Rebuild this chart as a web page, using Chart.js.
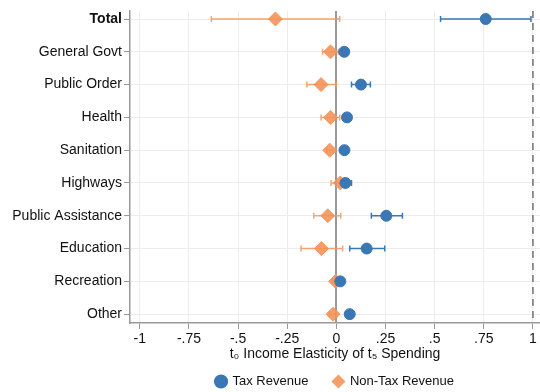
<!DOCTYPE html>
<html>
<head>
<meta charset="utf-8">
<script src="https://cdn.jsdelivr.net/npm/chart.js@4/dist/chart.umd.min.js"></script>
<style>
  html, body { margin: 0; padding: 0; background: #fff; }
  #wrap { width: 540px; height: 392px; }
</style>
</head>
<body>
<div id="wrap"><canvas id="c" width="540" height="392"></canvas></div>
<script>
// Spending categories, top to bottom
const categories = ['Total', 'General Govt', 'Public Order', 'Health', 'Sanitation',
  'Highways', 'Public Assistance', 'Education', 'Recreation', 'Other'];

// Tax revenue: point estimate and confidence interval
const taxEst  = [0.76, 0.04, 0.125, 0.054, 0.041, 0.046, 0.254, 0.154, 0.02, 0.068];
const taxLow  = [0.53, 0.03, 0.077, 0.04, 0.03, 0.03, 0.178, 0.068, 0.012, 0.058];
const taxHigh = [0.99, 0.05, 0.173, 0.068, 0.052, 0.077, 0.336, 0.246, 0.028, 0.078];

// Non-tax revenue: point estimate and confidence interval
const nonTaxEst  = [-0.31, -0.03, -0.078, -0.03, -0.034, 0.02, -0.044, -0.076, -0.004, -0.017];
const nonTaxLow  = [-0.636, -0.07, -0.15, -0.078, -0.05, -0.027, -0.115, -0.18, -0.02, -0.035];
const nonTaxHigh = [0.017, 0.01, 0.0, 0.017, -0.018, 0.071, 0.022, 0.032, 0.012, 0.001];

// Horizontal axis ticks
const xTicks = [-1, -0.75, -0.5, -0.25, 0, 0.25, 0.5, 0.75, 1];

const BLUE = '#3a77b3';
const ORANGE = 'rgba(242,146,86,0.88)';
const ORANGE_LINE = 'rgba(242,150,92,0.85)';
const FONT = '"Liberation Sans", Arial, Helvetica, sans-serif';
const LEGEND_GAP = 25;

function fmtTick(v) {
  if (v === 0) return '0';
  const s = String(Math.abs(v)).replace(/^0/, '');
  return (v < 0 ? '-' : '') + s;
}

// Let the plot area run to the right edge of the canvas
const fullWidthPlot = {
  id: 'fullWidthPlot',
  afterLayout(chart) {
    const x = chart.scales.x;
    const area = chart.chartArea;
    area.right = chart.width;
    area.width = area.right - area.left;
    x.right = chart.width;
    x.width = x.right - x.left;
    x.configure();
  }
};

// Error bars and reference lines, drawn from the chart's own scales
const errorBars = {
  id: 'errorBars',
  beforeDatasetsDraw(chart) {
    const { ctx, chartArea, scales: { x, y } } = chart;
    ctx.save();
    // reference lines at 0 (solid) and 1 (dashed)
    ctx.strokeStyle = '#9a9a9a';
    ctx.lineWidth = 2;
    ctx.beginPath();
    ctx.moveTo(Math.round(x.getPixelForValue(0)), chartArea.top);
    ctx.lineTo(Math.round(x.getPixelForValue(0)), chartArea.bottom);
    ctx.stroke();
    ctx.strokeStyle = '#7a7a7a';
    ctx.lineWidth = 1.6;
    ctx.setLineDash([7, 5]);
    ctx.beginPath();
    ctx.moveTo(x.getPixelForValue(1), chartArea.top);
    ctx.lineTo(x.getPixelForValue(1), chartArea.bottom);
    ctx.stroke();
    ctx.setLineDash([]);

    const sets = [
      { low: taxLow, high: taxHigh, color: BLUE },
      { low: nonTaxLow, high: nonTaxHigh, color: ORANGE_LINE }
    ];
    sets.forEach(s => {
      ctx.strokeStyle = s.color;
      ctx.lineWidth = 1.5;
      categories.forEach((_, i) => {
        const py = y.getPixelForValue(i);
        const x1 = x.getPixelForValue(s.low[i]);
        const x2 = x.getPixelForValue(s.high[i]);
        ctx.beginPath();
        ctx.moveTo(x1, py); ctx.lineTo(x2, py);
        ctx.moveTo(x1, py - 3); ctx.lineTo(x1, py + 3);
        ctx.moveTo(x2, py - 3); ctx.lineTo(x2, py + 3);
        ctx.stroke();
      });
    });
    ctx.restore();
  }
};

// Place the legend centred under the plot area, a fixed distance below the axis
const legendUnderPlot = {
  id: 'legendUnderPlot',
  afterLayout(chart) {
    const lg = chart.legend;
    if (!lg) return;
    const mid = (chart.chartArea.left + chart.chartArea.right) / 2;
    const shift = mid - (lg.left + lg.right) / 2;
    lg.left += shift;
    lg.right += shift;
    const centerY = chart.chartArea.bottom + 60;
    lg.top = centerY - LEGEND_GAP - 8;
    lg.bottom = chart.height;
    lg.height = lg.bottom - lg.top;
  }
};

new Chart(document.getElementById('c'), {
  type: 'scatter',
  data: {
    datasets: [
      {
        label: 'Tax Revenue',
        data: taxEst.map((v, i) => ({ x: v, y: i })),
        backgroundColor: BLUE,
        borderColor: BLUE,
        pointStyle: 'circle',
        pointRadius: 5.5,
        pointHoverRadius: 5.5
      },
      {
        label: 'Non-Tax Revenue',
        data: nonTaxEst.map((v, i) => ({ x: v, y: i })),
        backgroundColor: ORANGE,
        borderColor: ORANGE,
        pointStyle: 'rectRot',
        pointRadius: 7,
        pointHoverRadius: 7
      }
    ]
  },
  options: {
    responsive: false,
    animation: false,
    events: [],
    layout: { padding: { top: 11, right: 0, left: 0, bottom: 0 } },
    plugins: {
      tooltip: { enabled: false },
      legend: {
        position: 'bottom',
        maxHeight: 21,
        labels: {
          usePointStyle: true,
          boxWidth: 10,
          boxHeight: 10,
          padding: LEGEND_GAP,
          color: '#111',
          font: { family: FONT, size: 13 },
          generateLabels(chart) {
            return chart.data.datasets.map((d, i) => ({
              text: d.label,
              fillStyle: i === 0 ? BLUE : 'rgba(242,150,92,0.9)',
              strokeStyle: i === 0 ? BLUE : 'rgba(242,150,92,0.9)',
              lineWidth: 0,
              pointStyle: d.pointStyle,
              datasetIndex: i,
              fontColor: '#111'
            }));
          }
        }
      }
    },
    scales: {
      x: {
        type: 'linear',
        min: -1.05,
        max: 1.036,
        afterBuildTicks(scale) { scale.ticks = xTicks.map(v => ({ value: v })); },
        afterFit(scale) { scale.height = 48; scale.paddingRight = 0; scale.paddingLeft = 0; },
        ticks: {
          callback: v => fmtTick(v),
          color: '#111',
          font: { family: FONT, size: 14 },
          padding: 2,
          maxRotation: 0,
          autoSkip: false
        },
        grid: { color: '#ececec', lineWidth: 1, tickColor: '#999', tickLength: 6 },
        border: { color: '#999', width: 1.5 },
        title: {
          display: true,
          text: 't\u2080 Income Elasticity of t\u2085 Spending',
          color: '#111',
          font: { family: FONT, size: 14 },
          padding: { top: 0, bottom: 8 }
        }
      },
      y: {
        type: 'linear',
        reverse: true,
        min: -0.244,
        max: 9.27,
        afterBuildTicks(scale) { scale.ticks = categories.map((_, i) => ({ value: i })); },
        afterFit(scale) { scale.width = 130; },
        ticks: {
          callback: v => categories[v],
          color: '#111',
          font: ctx => ({ family: FONT, size: 14, weight: ctx.tick && ctx.tick.value === 0 ? 'bold' : 'normal' }),
          padding: 2,
          autoSkip: false
        },
        grid: { color: '#ececec', lineWidth: 1, tickColor: '#999', tickLength: 6 },
        border: { color: '#999', width: 1.5 }
      }
    }
  },
  plugins: [fullWidthPlot, errorBars, legendUnderPlot]
});
</script>
</body>
</html>
